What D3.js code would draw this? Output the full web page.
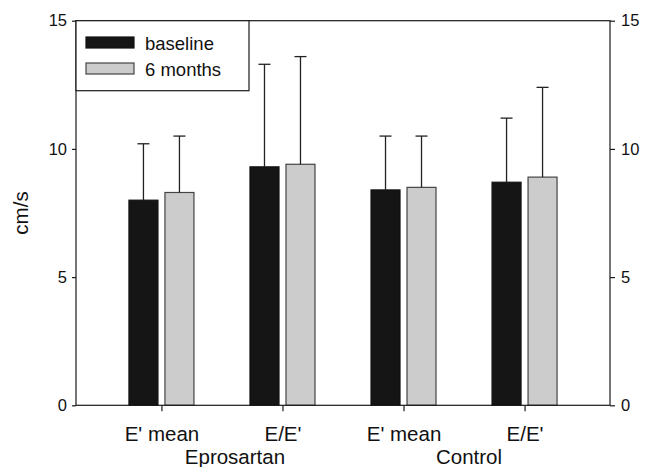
<!DOCTYPE html>
<html>
<head>
<meta charset="utf-8">
<script src="https://cdnjs.cloudflare.com/ajax/libs/d3/7.8.5/d3.min.js"></script>
<style>
  body { margin: 0; background: #fff; }
  text { font-family: "Liberation Sans", Arial, sans-serif; fill: #111; }
</style>
</head>
<body>
<div id="canvas"></div>
<script>
"use strict"

/* Chart data */
let categories = ["E' mean", "E/E'", "E' mean", "E/E'"];
let groups = ["Eprosartan", "Control"];
let seriesNames = ["baseline", "6 months"];
let baselineMean = [8.0, 9.3, 8.4, 8.7];
let baselineSD = [2.2, 4.0, 2.1, 2.5];
let monthsMean = [8.3, 9.4, 8.5, 8.9];
let monthsSD = [2.2, 4.2, 2.0, 3.5];
let yTicks = [0, 5, 10, 15];

/* Drawing configuration */
let svgWidth = 646;
let svgHeight = 467;
let plotLeft = 76, plotRight = 610, plotTop = 20.7, plotBottom = 405.3;
let barWidth = 29;
let fills = ["#151515", "#cccccc"];
let strokes = ["#111111", "#444444"];

let svg = d3.select("#canvas")
    .append("svg")
    .attr("width", svgWidth)
    .attr("height", svgHeight);

let x = d3.scalePoint()
    .domain(d3.range(categories.length))
    .range([plotLeft, plotRight])
    .padding(0.706);

let y = d3.scaleLinear()
    .domain([0, 15])
    .range([plotBottom, plotTop]);

/* bars + error bars for each series */
let series = [
    { mean: baselineMean, sd: baselineSD, offset: -32.5 },
    { mean: monthsMean, sd: monthsSD, offset: 3.5 }
];

series.forEach(function (s, si) {
    let g = svg.append("g");
    let rows = d3.range(categories.length).map(function (i) {
        return { i: i, mean: s.mean[i], sd: s.sd[i] };
    });

    g.selectAll("rect")
        .data(rows)
        .join("rect")
        .attr("x", d => x(d.i) + s.offset)
        .attr("y", d => y(d.mean))
        .attr("width", barWidth)
        .attr("height", d => y(0) - y(d.mean))
        .attr("fill", fills[si])
        .attr("stroke", strokes[si])
        .attr("stroke-width", 1.2);

    // error line up from the bar top
    g.selectAll("line.err")
        .data(rows)
        .join("line")
        .attr("class", "err")
        .attr("x1", d => x(d.i) + s.offset + barWidth / 2)
        .attr("x2", d => x(d.i) + s.offset + barWidth / 2)
        .attr("y1", d => y(d.mean))
        .attr("y2", d => y(d.mean + d.sd))
        .attr("stroke", "#222")
        .attr("stroke-width", 1.3);

    g.selectAll("line.cap")
        .data(rows)
        .join("line")
        .attr("class", "cap")
        .attr("x1", d => x(d.i) + s.offset + barWidth / 2 - 6)
        .attr("x2", d => x(d.i) + s.offset + barWidth / 2 + 6)
        .attr("y1", d => y(d.mean + d.sd))
        .attr("y2", d => y(d.mean + d.sd))
        .attr("stroke", "#222")
        .attr("stroke-width", 1.3);
});

/* frame */
svg.append("rect")
    .attr("x", plotLeft)
    .attr("y", plotTop)
    .attr("width", plotRight - plotLeft)
    .attr("height", plotBottom - plotTop)
    .attr("fill", "none")
    .attr("stroke", "#1a1a1a")
    .attr("stroke-width", 1.2);

/* axes */
let leftAxis = svg.append("g")
    .attr("transform", "translate(" + plotLeft + ",0)")
    .call(d3.axisLeft(y).tickValues(yTicks).tickSize(4).tickPadding(5));

let rightAxis = svg.append("g")
    .attr("transform", "translate(" + plotRight + ",0)")
    .call(d3.axisRight(y).tickValues(yTicks).tickSize(5).tickPadding(6));

let bottomAxis = svg.append("g")
    .attr("transform", "translate(0," + plotBottom + ")")
    .call(d3.axisBottom(x).tickSize(6).tickPadding(15)
        .tickFormat(i => categories[i]));

[leftAxis, rightAxis, bottomAxis].forEach(function (a) {
    a.select(".domain").remove();
    a.selectAll(".tick line").attr("stroke", "#1a1a1a").attr("stroke-width", 1.2);
    a.selectAll("text")
        .attr("font-family", "Liberation Sans, Arial, sans-serif")
        .attr("fill", "#111");
});
leftAxis.selectAll("text").attr("font-size", 16.5);
rightAxis.selectAll("text").attr("font-size", 16.5);
bottomAxis.selectAll("text").attr("font-size", 20.5);

/* group labels under the category pairs */
let groupShift = [13, 5];
groups.forEach(function (name, gi) {
    let mid = (x(gi * 2) + x(gi * 2 + 1)) / 2;
    svg.append("text")
        .attr("x", mid + groupShift[gi])
        .attr("y", 464)
        .attr("text-anchor", "middle")
        .attr("font-size", 20.5)
        .text(name);
});

/* y axis title */
svg.append("text")
    .attr("transform", "translate(28," + ((plotTop + plotBottom) / 2) + ") rotate(-90)")
    .attr("text-anchor", "middle")
    .attr("font-size", 20.5)
    .text("cm/s");

/* legend */
let legend = svg.append("g");
legend.append("rect")
    .attr("x", plotLeft)
    .attr("y", plotTop)
    .attr("width", 173)
    .attr("height", 70)
    .attr("fill", "#fff")
    .attr("stroke", "#1a1a1a")
    .attr("stroke-width", 1.2);

seriesNames.forEach(function (name, si) {
    legend.append("rect")
        .attr("x", 86)
        .attr("y", 37 + si * 26)
        .attr("width", 48)
        .attr("height", 11)
        .attr("fill", fills[si])
        .attr("stroke", strokes[si])
        .attr("stroke-width", 1.2);
    legend.append("text")
        .attr("x", 145)
        .attr("y", 50 + si * 26)
        .attr("font-size", 18.5)
        .text(name);
});
</script>
</body>
</html>
